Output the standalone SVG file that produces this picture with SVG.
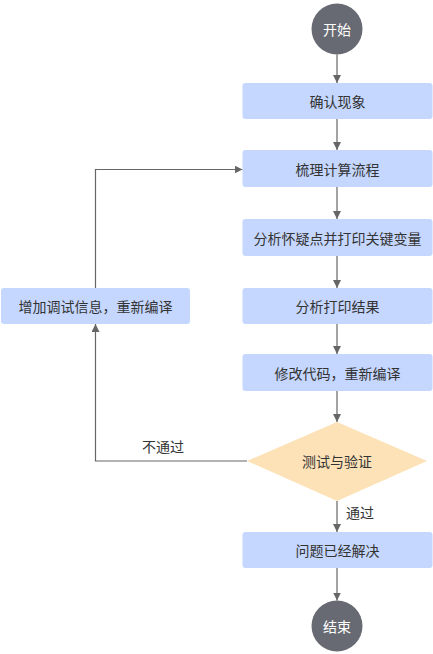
<svg xmlns="http://www.w3.org/2000/svg" width="433" height="654" viewBox="0 0 433 654">
<style>
.box{fill:#c5d7fe;}
.term{fill:#676a72;}
.dia{fill:#fde2b8;}
.t{font-family:"Noto Sans CJK SC","Noto Sans",sans-serif;font-size:14px;fill:#333;text-anchor:middle;dominant-baseline:central;}
.tw{fill:#fff;}
.e{fill:none;stroke:#666;stroke-width:1.2;}
</style>
<defs>
<marker id="ah" viewBox="0 0 10 10" refX="10" refY="5" markerWidth="8" markerHeight="8" markerUnits="userSpaceOnUse" orient="auto">
<path d="M0,0 L10,5 L0,10 Z" fill="#666"/>
</marker>
</defs>
<rect width="433" height="654" fill="#fff"/>
<g id="connectors">
<line class="e" x1="337" y1="54.5" x2="337" y2="83" marker-end="url(#ah)"/>
<line class="e" x1="337" y1="119" x2="337" y2="150" marker-end="url(#ah)"/>
<line class="e" x1="337" y1="187" x2="337" y2="219" marker-end="url(#ah)"/>
<line class="e" x1="337" y1="256" x2="337" y2="288" marker-end="url(#ah)"/>
<line class="e" x1="337" y1="324" x2="337" y2="354" marker-end="url(#ah)"/>
<line class="e" x1="337" y1="391" x2="337" y2="422" marker-end="url(#ah)"/>
<line class="e" x1="337" y1="501" x2="337" y2="532" marker-end="url(#ah)"/>
<line class="e" x1="337" y1="568" x2="337" y2="600.5" marker-end="url(#ah)"/>
<polyline class="e" points="247,461 95.5,461 95.5,324" marker-end="url(#ah)"/>
<polyline class="e" points="95.5,288 95.5,169.5 242.5,169.5" marker-end="url(#ah)"/>
<text class="t" x="163" y="446">不通过</text>
<text class="t" x="360" y="512">通过</text>
</g>
<g id="start"><circle class="term" cx="337" cy="29" r="25.5"/><text class="t tw" x="337" y="29">开始</text></g>
<g id="n1"><rect class="box" x="242.5" y="83" width="190" height="36" rx="3"/><text class="t" x="337.5" y="101">确认现象</text></g>
<g id="n2"><rect class="box" x="242.5" y="150" width="190" height="37" rx="3"/><text class="t" x="337.5" y="168.5">梳理计算流程</text></g>
<g id="n3"><rect class="box" x="242.5" y="219" width="190" height="37" rx="3"/><text class="t" x="337.5" y="237.5">分析怀疑点并打印关键变量</text></g>
<g id="n4"><rect class="box" x="242.5" y="288" width="190" height="36" rx="3"/><text class="t" x="337.5" y="306">分析打印结果</text></g>
<g id="n5"><rect class="box" x="242.5" y="354" width="190" height="37" rx="3"/><text class="t" x="337.5" y="372.5">修改代码，重新编译</text></g>
<g id="d1"><polygon class="dia" points="337,422 427,461 337,501 247,461"/><text class="t" x="337" y="461">测试与验证</text></g>
<g id="n6"><rect class="box" x="242.5" y="532" width="190" height="36" rx="3"/><text class="t" x="337.5" y="550">问题已经解决</text></g>
<g id="end"><circle class="term" cx="337" cy="626" r="25.5"/><text class="t tw" x="337" y="626">结束</text></g>
<g id="nl"><rect class="box" x="1" y="288" width="189" height="36" rx="3"/><text class="t" x="95.5" y="306">增加调试信息，重新编译</text></g>
</svg>
